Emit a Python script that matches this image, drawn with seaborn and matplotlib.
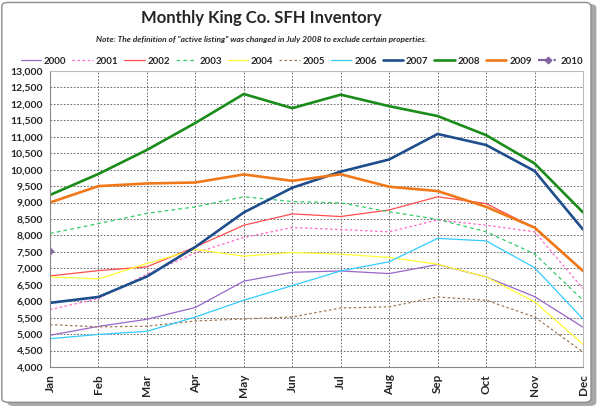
import numpy as np
import pandas as pd
import matplotlib.pyplot as plt
import seaborn as sns
from matplotlib.patches import FancyBboxPatch

sns.set_style("white")
plt.rcParams['font.family'] = ['Lato', 'DejaVu Sans']

months = ['Jan', 'Feb', 'Mar', 'Apr', 'May', 'Jun', 'Jul', 'Aug', 'Sep', 'Oct', 'Nov', 'Dec']

inv_2000 = [4965, 5235, 5450, 5810, 6610, 6880, 6920, 6840, 7115, 6740, 6140, 5210]
inv_2001 = [5745, 6080, 6820, 7470, 7940, 8240, 8180, 8110, 8470, 8310, 8110, 6385]
inv_2002 = [6770, 6930, 7045, 7650, 8310, 8655, 8575, 8775, 9175, 8970, 8230, 6910]
inv_2003 = [8060, 8360, 8670, 8870, 9175, 9030, 8990, 8720, 8490, 8110, 7440, 6030]
inv_2004 = [6740, 6680, 7145, 7575, 7370, 7480, 7430, 7330, 7125, 6740, 5985, 4690]
inv_2005 = [5290, 5220, 5240, 5400, 5460, 5520, 5795, 5830, 6130, 6030, 5520, 4455]
inv_2006 = [4860, 4990, 5085, 5520, 6030, 6475, 6920, 7200, 7910, 7835, 7020, 5460]
inv_2007 = [5950, 6130, 6750, 7650, 8700, 9450, 9940, 10310, 11085, 10750, 9960, 8180]
inv_2008 = [9230, 9870, 10600, 11420, 12300, 11870, 12280, 11930, 11630, 11050, 10190, 8700]
inv_2009 = [9000, 9500, 9580, 9610, 9855, 9660, 9860, 9480, 9350, 8870, 8240, 6920]
inv_2010 = [7520]

series = [
    ('2000', inv_2000, '#9966cc', '-', 0.9, None),
    ('2001', inv_2001, '#ff66cc', (0, (2, 2)), 0.9, None),
    ('2002', inv_2002, '#ff4d4d', '-', 0.9, None),
    ('2003', inv_2003, '#33cc66', (0, (3, 2.5)), 0.9, None),
    ('2004', inv_2004, '#ffff33', '-', 0.9, None),
    ('2005', inv_2005, '#a07850', (0, (2, 2)), 0.9, None),
    ('2006', inv_2006, '#33ccff', '-', 0.9, None),
    ('2007', inv_2007, '#1f4e8c', '-', 1.9, None),
    ('2008', inv_2008, '#1a8c1a', '-', 1.9, None),
    ('2009', inv_2009, '#f07818', '-', 1.9, None),
    ('2010', inv_2010, '#8064a2', (0, (5, 2, 1, 2)), 1.6, 'D'),
]

fig = plt.figure(figsize=(6, 4.08), dpi=100)

# outer rounded frame with shadow, kept behind the axes
fig.patches.append(FancyBboxPatch((0.012, 0.005), 0.982, 0.985, boxstyle="round,pad=0,rounding_size=0.01",
                                  transform=fig.transFigure, facecolor='#a8a8a8', edgecolor='none', zorder=-10))
fig.patches.append(FancyBboxPatch((0.003, 0.014), 0.982, 0.98, boxstyle="round,pad=0,rounding_size=0.01",
                                  transform=fig.transFigure, facecolor='white', edgecolor='#8c8c8c', lw=1.0, zorder=-9))

ax = fig.add_axes([0.0833, 0.1005, 0.8884, 0.7255])
ax.set_zorder(5)
ax.patch.set_alpha(0)

x = np.arange(len(months))
for label, vals, color, ls, lw, marker in series:
    df = pd.DataFrame({'month': x[:len(vals)], 'inventory': vals})
    sns.lineplot(data=df, x='month', y='inventory', ax=ax, color=color, linestyle=ls, linewidth=lw,
                 marker=marker, markersize=3.5, markeredgecolor=color, label=label)

ax.set_xlim(0, 11)
ax.set_ylim(4000, 13000)
ax.set_xticks(x)
ax.set_xticklabels(months, rotation=90, fontsize=8.5, fontweight='bold')
ax.set_yticks(np.arange(4000, 13001, 500))
ax.set_yticklabels([f"{v:,}" for v in range(4000, 13001, 500)], fontsize=7.5, fontweight='bold')
ax.set_xlabel('')
ax.set_ylabel('')
ax.grid(True, color='#555555', linestyle=(0, (2, 2)), linewidth=0.6)
ax.set_axisbelow(True)
ax.tick_params(axis='both', length=3, width=0.8, color='#888888', pad=2, direction='out')
for side in ['left', 'bottom']:
    ax.spines[side].set_color('#888888')
for side in ['top', 'right']:
    ax.spines[side].set_color('#bbbbbb')

ax.legend(loc='lower center', bbox_to_anchor=(0.473, 1.0), ncol=11, frameon=False,
          handlelength=2.1, handletextpad=0.3, columnspacing=0.6, borderaxespad=0.15,
          prop={'weight': 'bold', 'size': 7})

fig.text(0.435, 0.955, 'Monthly King Co. SFH Inventory', ha='center', va='center',
         fontsize=12, fontweight='bold')
fig.text(0.435, 0.902, 'Note: The definition of "active listing" was changed in July 2008 to exclude certain properties.',
         ha='center', va='center', fontsize=6, fontweight='bold', style='italic')

fig.savefig('out.png', dpi=100)
